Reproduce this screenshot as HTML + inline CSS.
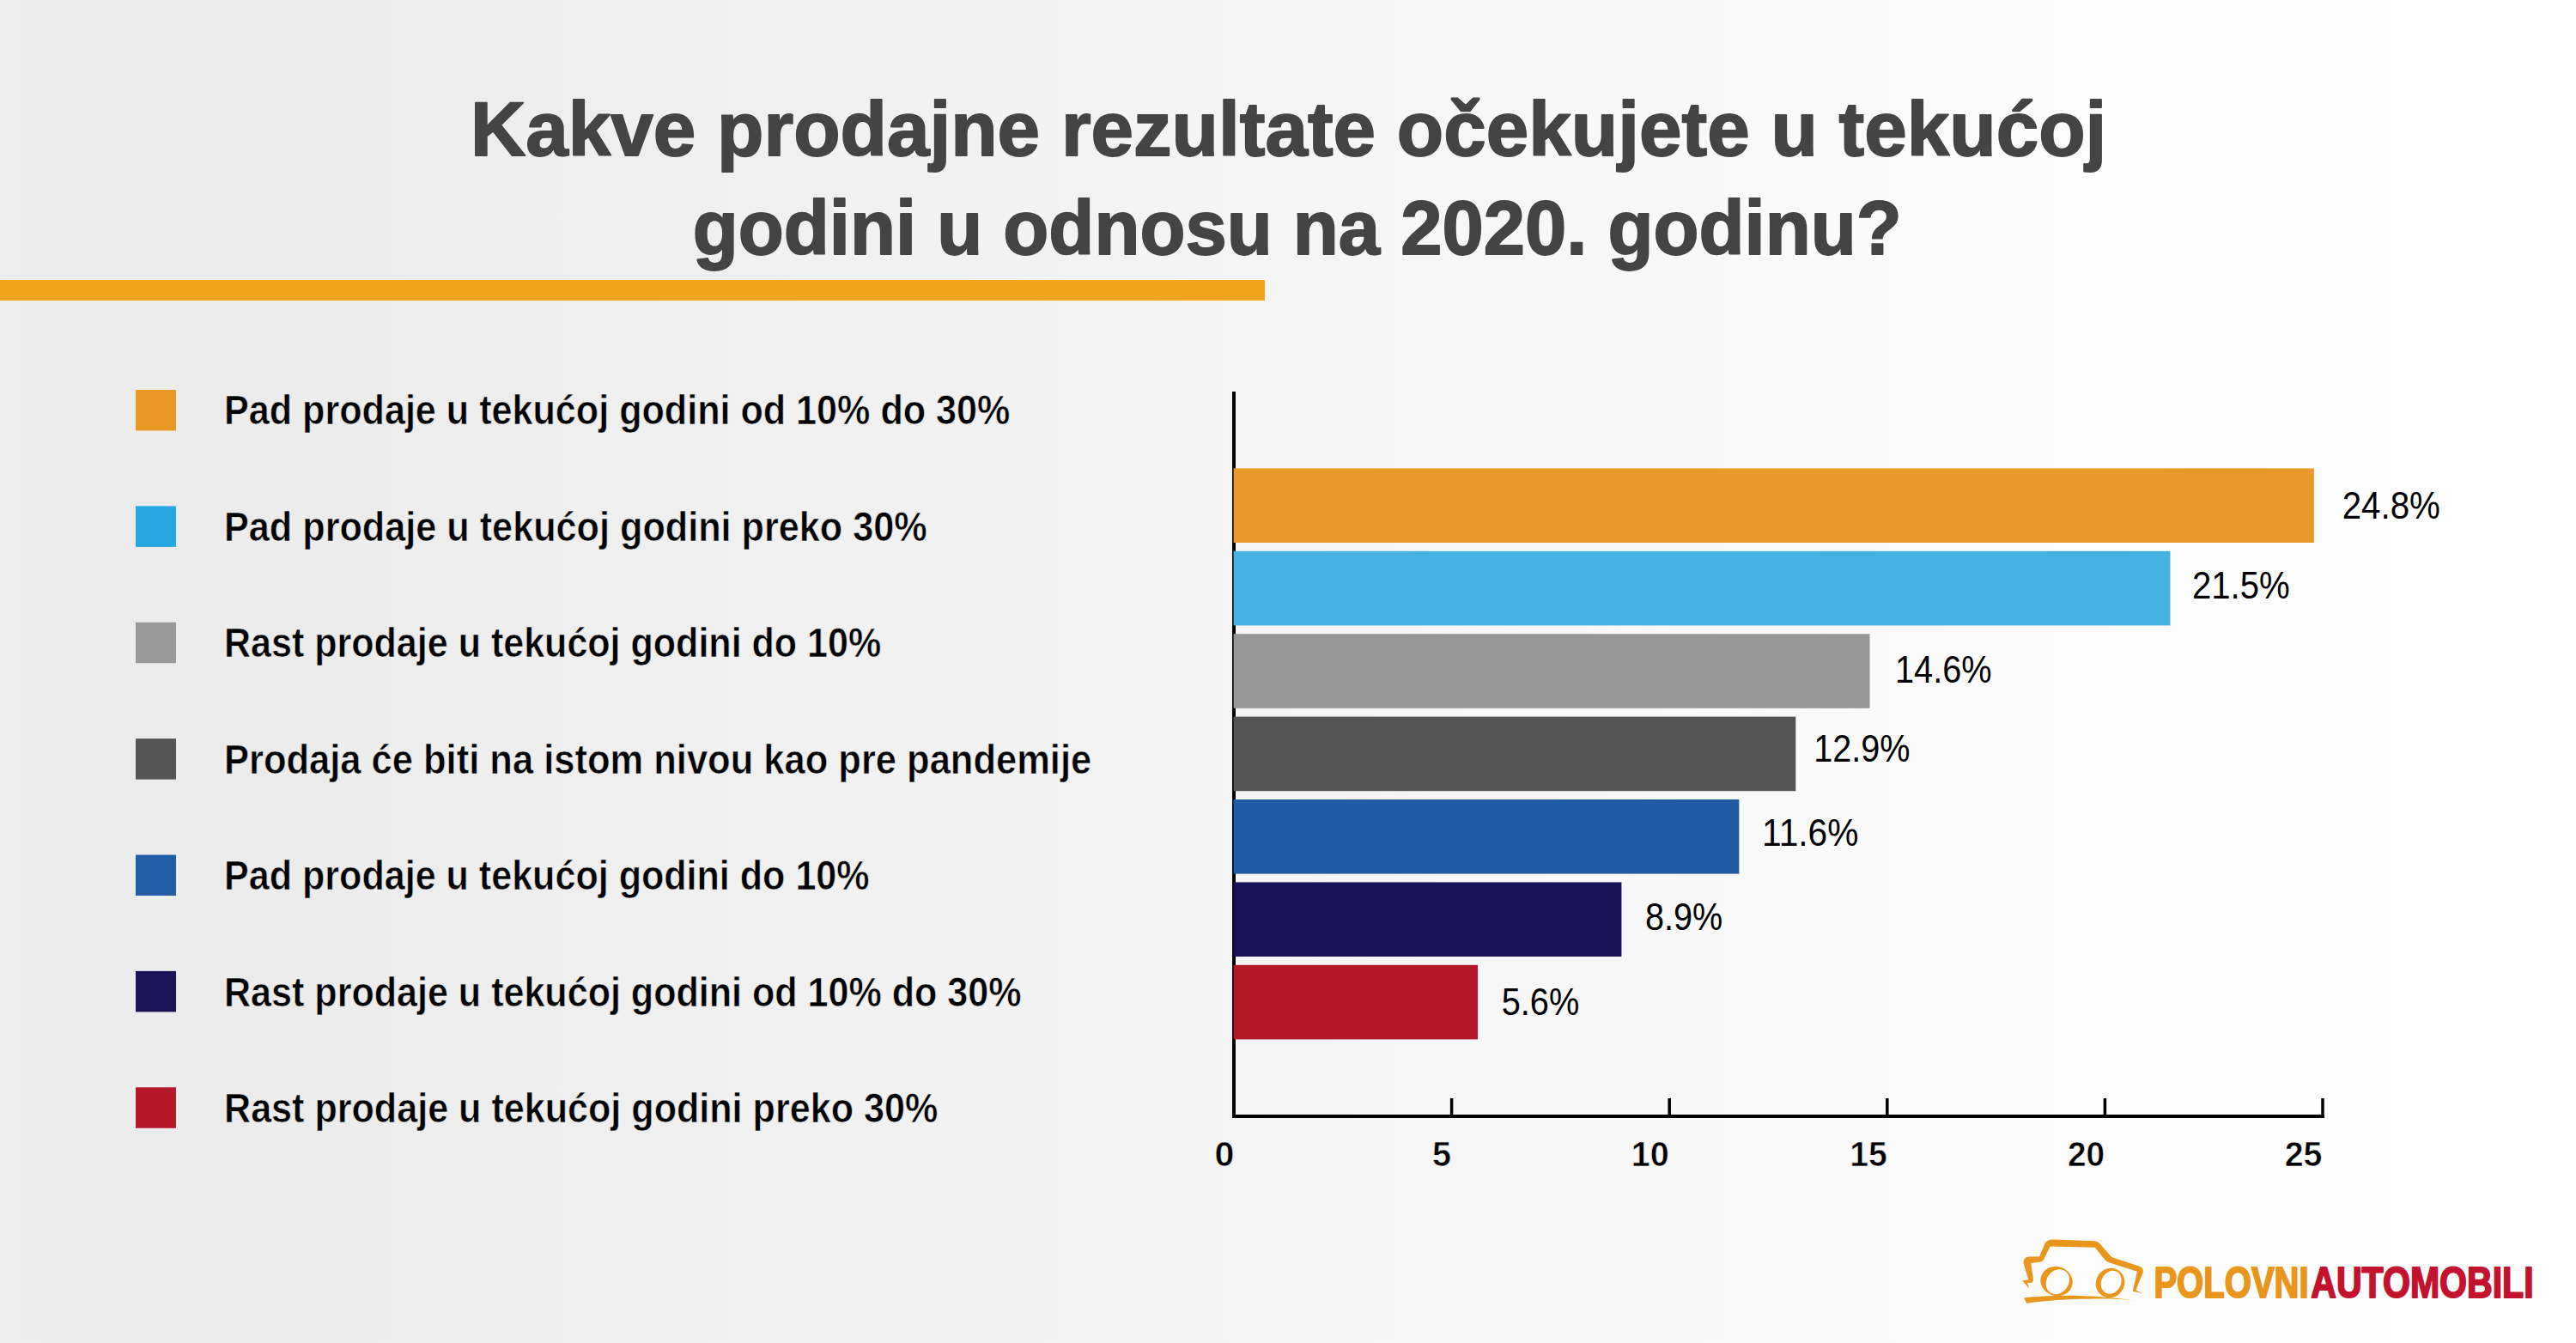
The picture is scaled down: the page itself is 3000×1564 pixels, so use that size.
<!DOCTYPE html>
<html><head><meta charset="utf-8"><style>
html,body{margin:0;padding:0;}
body{width:3000px;height:1564px;overflow:hidden;background:linear-gradient(to right,#ededed 0%,#ececec 5%,#ececec 11.67%,#ffffff 93.33%,#ffffff 100%);}
svg{position:absolute;left:0;top:0;}
text{font-family:"Liberation Sans",Arial,sans-serif;}
</style></head><body>
<svg width="3000" height="1564" viewBox="0 0 3000 1564">
<defs><linearGradient id="bgg" gradientUnits="userSpaceOnUse" x1="0" y1="0" x2="3000" y2="0"><stop offset="0" stop-color="#ededed"/><stop offset="0.05" stop-color="#ececec"/><stop offset="0.1167" stop-color="#ececec"/><stop offset="0.9333" stop-color="#ffffff"/><stop offset="1" stop-color="#ffffff"/></linearGradient></defs>
<text x="547.94" y="180.90" font-size="88.52" font-weight="700" fill="#444444" stroke="#444444" stroke-width="1.8" stroke-linejoin="round" textLength="1905.42" lengthAdjust="spacingAndGlyphs">Kakve prodajne rezultate očekujete u tekućoj</text>
<text x="806.84" y="295.90" font-size="88.52" font-weight="700" fill="#444444" stroke="#444444" stroke-width="1.8" stroke-linejoin="round" textLength="1407.86" lengthAdjust="spacingAndGlyphs">godini u odnosu na 2020. godinu?</text>
<rect x="0" y="326" width="1473" height="24" fill="#F0A51C"/>
<rect x="158" y="454.00" width="47" height="47.5" fill="#E99824"/>
<text x="261.01" y="494.00" font-size="48.26" font-weight="700" fill="#000" stroke="url(#bgg)" stroke-width="0.6" stroke-linejoin="round" textLength="915.42" lengthAdjust="spacingAndGlyphs">Pad prodaje u tekućoj godini od 10% do 30%</text>
<rect x="158" y="589.38" width="47" height="47.5" fill="#27A8E0"/>
<text x="261.01" y="629.55" font-size="48.26" font-weight="700" fill="#000" stroke="url(#bgg)" stroke-width="0.6" stroke-linejoin="round" textLength="818.73" lengthAdjust="spacingAndGlyphs">Pad prodaje u tekućoj godini preko 30%</text>
<rect x="158" y="724.76" width="47" height="47.5" fill="#999999"/>
<text x="261.02" y="765.10" font-size="48.26" font-weight="700" fill="#000" stroke="url(#bgg)" stroke-width="0.6" stroke-linejoin="round" textLength="765.21" lengthAdjust="spacingAndGlyphs">Rast prodaje u tekućoj godini do 10%</text>
<rect x="158" y="860.14" width="47" height="47.5" fill="#555555"/>
<text x="260.99" y="900.65" font-size="48.26" font-weight="700" fill="#000" stroke="url(#bgg)" stroke-width="0.6" stroke-linejoin="round" textLength="1010.20" lengthAdjust="spacingAndGlyphs">Prodaja će biti na istom nivou kao pre pandemije</text>
<rect x="158" y="995.52" width="47" height="47.5" fill="#235DA4"/>
<text x="261.02" y="1036.20" font-size="48.26" font-weight="700" fill="#000" stroke="url(#bgg)" stroke-width="0.6" stroke-linejoin="round" textLength="751.62" lengthAdjust="spacingAndGlyphs">Pad prodaje u tekućoj godini do 10%</text>
<rect x="158" y="1130.90" width="47" height="47.5" fill="#1B1558"/>
<text x="261.02" y="1171.75" font-size="48.26" font-weight="700" fill="#000" stroke="url(#bgg)" stroke-width="0.6" stroke-linejoin="round" textLength="928.52" lengthAdjust="spacingAndGlyphs">Rast prodaje u tekućoj godini od 10% do 30%</text>
<rect x="158" y="1266.28" width="47" height="47.5" fill="#B5182A"/>
<text x="261.02" y="1307.30" font-size="48.26" font-weight="700" fill="#000" stroke="url(#bgg)" stroke-width="0.6" stroke-linejoin="round" textLength="831.22" lengthAdjust="spacingAndGlyphs">Rast prodaje u tekućoj godini preko 30%</text>
<rect x="1435" y="456" width="4" height="846" fill="#000"/>
<rect x="1436.6" y="545.40" width="1258.26" height="86.6" fill="#E8992A"/>
<text x="2727.67" y="604.00" font-size="43.5" font-weight="400" fill="#000" textLength="114.26" lengthAdjust="spacingAndGlyphs">24.8%</text>
<rect x="1436.6" y="641.80" width="1090.88" height="86.6" fill="#45B3E2"/>
<text x="2552.88" y="697.30" font-size="43.5" font-weight="400" fill="#000" textLength="113.85" lengthAdjust="spacingAndGlyphs">21.5%</text>
<rect x="1436.6" y="738.20" width="740.91" height="86.6" fill="#969696"/>
<text x="2206.97" y="795.40" font-size="43.5" font-weight="400" fill="#000" textLength="112.64" lengthAdjust="spacingAndGlyphs">14.6%</text>
<rect x="1436.6" y="834.60" width="654.69" height="86.6" fill="#555555"/>
<text x="2112.29" y="887.10" font-size="43.5" font-weight="400" fill="#000" textLength="112.23" lengthAdjust="spacingAndGlyphs">12.9%</text>
<rect x="1436.6" y="931.00" width="588.75" height="86.6" fill="#225DA3"/>
<text x="2052.08" y="985.20" font-size="43.5" font-weight="400" fill="#000" textLength="112.33" lengthAdjust="spacingAndGlyphs">11.6%</text>
<rect x="1436.6" y="1027.40" width="451.81" height="86.6" fill="#1A1358"/>
<text x="1916.08" y="1082.80" font-size="43.5" font-weight="400" fill="#000" textLength="90.23" lengthAdjust="spacingAndGlyphs">8.9%</text>
<rect x="1436.6" y="1123.80" width="284.43" height="86.6" fill="#B31728"/>
<text x="1748.71" y="1182.40" font-size="43.5" font-weight="400" fill="#000" textLength="90.51" lengthAdjust="spacingAndGlyphs">5.6%</text>
<rect x="1435" y="1298" width="1272" height="4" fill="#000"/>
<rect x="1688.85" y="1279" width="3.5" height="21" fill="#000"/>
<rect x="1942.45" y="1279" width="3.5" height="21" fill="#000"/>
<rect x="2196.05" y="1279" width="3.5" height="21" fill="#000"/>
<rect x="2449.65" y="1279" width="3.5" height="21" fill="#000"/>
<rect x="2703.25" y="1279" width="3.5" height="21" fill="#000"/>
<text x="1414.47" y="1358.20" font-size="41.12" font-weight="700" fill="#000" stroke="url(#bgg)" stroke-width="0.6" stroke-linejoin="round" textLength="22.92" lengthAdjust="spacingAndGlyphs">0</text>
<text x="1667.98" y="1358.20" font-size="41.12" font-weight="700" fill="#000" stroke="url(#bgg)" stroke-width="0.6" stroke-linejoin="round" textLength="22.02" lengthAdjust="spacingAndGlyphs">5</text>
<text x="1899.71" y="1358.20" font-size="41.12" font-weight="700" fill="#000" stroke="url(#bgg)" stroke-width="0.6" stroke-linejoin="round" textLength="44.02" lengthAdjust="spacingAndGlyphs">10</text>
<text x="2154.13" y="1358.20" font-size="41.12" font-weight="700" fill="#000" stroke="url(#bgg)" stroke-width="0.6" stroke-linejoin="round" textLength="43.56" lengthAdjust="spacingAndGlyphs">15</text>
<text x="2408.06" y="1358.20" font-size="41.12" font-weight="700" fill="#000" stroke="url(#bgg)" stroke-width="0.6" stroke-linejoin="round" textLength="43.13" lengthAdjust="spacingAndGlyphs">20</text>
<text x="2660.74" y="1358.20" font-size="41.12" font-weight="700" fill="#000" stroke="url(#bgg)" stroke-width="0.6" stroke-linejoin="round" textLength="43.76" lengthAdjust="spacingAndGlyphs">25</text>
<text x="2508.42" y="1510.80" font-size="50.73" font-weight="700" fill="#E8961C" stroke="#E8961C" stroke-width="2.0" stroke-linejoin="round" textLength="180.26" lengthAdjust="spacingAndGlyphs">POLOVNI</text>
<text x="2691.28" y="1510.80" font-size="50.73" font-weight="700" fill="#C3122D" stroke="#C3122D" stroke-width="2.0" stroke-linejoin="round" textLength="259.36" lengthAdjust="spacingAndGlyphs">AUTOMOBILI</text>
<g transform="translate(2340,1430) scale(0.07446)" fill="#E8961C">
<path d="M310,945 L205,825 L300,810 L225,560 Q210,470 300,450 L470,445 L560,240 Q590,185 680,182 L1340,205 Q1390,215 1410,240 L1600,455 L2040,600 Q2110,630 2090,700 L1980,975 L2090,1025 L1930,990 L2000,680 L1560,540 Q1520,530 1500,505 L1340,305 L640,290 L545,480 Q520,530 470,535 L340,550 L375,800 Q380,855 330,858 L285,860 Z"/>
<path fill-rule="evenodd" d="M980.7,907.9 A253.0,228.0 17.21 1,1 497.3,758.1 A253.0,228.0 17.21 1,1 980.7,907.9 Z M898.1,938.4 A171.7,204.6 34.17 1,1 613.9,745.6 A171.7,204.6 34.17 1,1 898.1,938.4 Z"/>
<path fill-rule="evenodd" d="M1765.1,978.5 A221.5,231.5 32.34 1,1 1390.9,741.5 A221.5,231.5 32.34 1,1 1765.1,978.5 Z M1731.1,917.5 A152.8,186.8 26.22 1,1 1456.9,782.5 A152.8,186.8 26.22 1,1 1731.1,917.5 Z"/>
<path d="M228,1093 C420,1070 700,1055 916,1057 C1150,1060 1350,1070 1425,1077 C1600,1090 1900,1120 2095,1162 C1900,1130 1800,1118 1699,1116 C1550,1106 1300,1105 995,1116 C800,1125 500,1145 271,1179 Z"/>
</g>
</svg>
</body></html>
